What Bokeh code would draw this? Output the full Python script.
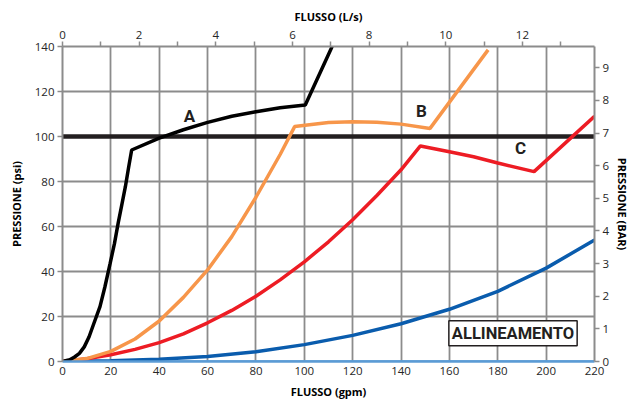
from bokeh.plotting import figure
from bokeh.models import Range1d, LinearAxis, FixedTicker, Label
from bokeh.embed import file_html
from bokeh.resources import INLINE

# Flow (gpm) vs pressure (psi) curves
gpm_a = [0, 3, 5, 7, 9, 11, 13, 15.5, 17.5, 19.7, 21.5, 23, 24.5, 26, 27.3, 28.6,
         40, 50, 60, 70, 80, 90, 100.4, 111.5]
psi_a = [0, 0.8, 2, 3.6, 6.5, 11, 17, 24.4, 33, 43.6, 52.5, 61.4, 69.5, 77.7, 86, 94,
         99.3, 103, 106.3, 109, 111, 112.8, 114, 140]

gpm_b = [0, 10, 20, 30, 40, 50, 60, 70, 80, 90, 96, 110, 120, 130, 140, 152, 176]
psi_b = [0, 1.3, 4.5, 10, 18, 28.5, 40.7, 55.5, 73, 92, 104.4, 106.2, 106.6, 106.3, 105.5, 103.6, 138.5]

gpm_c = [0, 10, 20, 30, 40, 50, 60, 70, 80, 90, 100, 110, 120, 130, 140, 148, 160, 170, 180, 195, 220]
psi_c = [0, 1.2, 3, 5.4, 8.4, 12.3, 17.2, 22.7, 29, 36.3, 44.3, 53.2, 63, 73.8, 85.2, 95.8,
         93.2, 91, 88.2, 84.4, 109]

gpm_align = [0, 20, 40, 60, 80, 100, 120, 140, 160, 180, 200, 220]
psi_align = [0, 0.3, 1.0, 2.2, 4.3, 7.5, 11.6, 16.8, 23.2, 31.2, 41.5, 54]

gpm_base = [0, 220]
psi_base = [0, 0]

ref_psi = 100

curve_names = ["A", "B", "C"]
name_gpm = [52.5, 148.4, 189.4]
name_psi = [109.3, 111.5, 94.8]

gpm_ticks = list(range(0, 221, 20))
psi_ticks = list(range(0, 141, 20))
lps_ticks = [0, 2, 4, 6, 8, 10, 12]
lps_minor = [1, 3, 5, 7, 9, 11, 13]
bar_ticks = list(range(0, 10))

LPS_PER_GPM = 0.0630902
BAR_PER_PSI = 0.0689476

FONT = "Open Sans"
BOLD_LABEL = "Roboto"
GRID = "#8c8c8c"
TXT = "#262626"

p = figure(width=634, height=403, output_backend="svg", toolbar_location=None,
           x_range=Range1d(0, 220), y_range=Range1d(0, 140),
           min_border_left=62, min_border_right=40, min_border_top=46, min_border_bottom=42)
p.outline_line_color = None
p.background_fill_color = "white"
p.border_fill_color = "white"

p.extra_x_ranges = {"lps": Range1d(0, 220 * LPS_PER_GPM)}
p.extra_y_ranges = {"bar": Range1d(0, 140 * BAR_PER_PSI)}

bottom = p.below[0]
left = p.left[0]

top = LinearAxis(x_range_name="lps", axis_label="FLUSSO (L/s)",
                 ticker=FixedTicker(ticks=lps_ticks, minor_ticks=lps_minor))
right = LinearAxis(y_range_name="bar", axis_label="PRESSIONE (BAR)",
                   ticker=FixedTicker(ticks=bar_ticks))
p.add_layout(top, "above")
p.add_layout(right, "right")

bottom.ticker = FixedTicker(ticks=gpm_ticks)
left.ticker = FixedTicker(ticks=psi_ticks)
bottom.axis_label = "FLUSSO (gpm)"
left.axis_label = "PRESSIONE (psi)"

for ax in [bottom, left, top, right]:
    ax.axis_line_color = GRID
    ax.axis_line_width = 2
    ax.major_tick_line_color = GRID
    ax.minor_tick_line_color = GRID
    ax.major_tick_line_width = 1.5
    ax.minor_tick_line_width = 1.5
    ax.major_tick_in = 0
    ax.minor_tick_in = 0
    ax.major_tick_out = 5
    ax.minor_tick_out = 0
    ax.major_label_text_font = FONT
    ax.major_label_text_font_size = "11.5px"
    ax.major_label_text_color = TXT
    ax.axis_label_text_font = FONT
    ax.axis_label_text_font_size = "11px"
    ax.axis_label_text_font_style = "bold"
    ax.axis_label_text_color = "black"
    ax.major_label_standoff = 3

top.minor_tick_out = 5
bottom.axis_line_color = "#5b9bd5"
bottom.axis_line_width = 2.5
bottom.major_tick_out = 0
bottom.major_label_standoff = 5
bottom.axis_label_standoff = 6
top.axis_label_standoff = 4
left.axis_label_standoff = 8
right.axis_label_standoff = 3

for g in [p.xgrid[0], p.ygrid[0]]:
    g.grid_line_color = GRID
    g.grid_line_width = 1.8
p.xgrid[0].ticker = FixedTicker(ticks=gpm_ticks)
p.ygrid[0].ticker = FixedTicker(ticks=psi_ticks)

# reference pressure
p.line([0, 220], [ref_psi, ref_psi], line_color="#231f20", line_width=4.5)

p.line(gpm_base, psi_base, line_color="#5b9bd5", line_width=2.5)
p.line(gpm_align, psi_align, line_color="#0a5cad", line_width=3.5)
p.line(gpm_c, psi_c, line_color="#ed1c24", line_width=3.5)
p.line(gpm_b, psi_b, line_color="#f7964a", line_width=3.5)
p.line(gpm_a, psi_a, line_color="black", line_width=3.5)

for name, gx, gy in zip(curve_names, name_gpm, name_psi):
    p.add_layout(Label(x=gx, y=gy, text=name, text_align="center", text_baseline="middle",
                       text_font=BOLD_LABEL, text_font_style="bold",
                       text_font_size="17px", text_color="#231f20"))

p.add_layout(Label(x=186.3, y=12.6, text="ALLINEAMENTO", text_align="center",
                   text_baseline="middle", text_font=BOLD_LABEL, text_font_style="bold",
                   text_font_size="16.5px", text_color="#231f20",
                   background_fill_color="white", border_line_color="#231f20",
                   border_line_width=1.5, padding=3))

open("out.html", "w").write(file_html(p, INLINE))
